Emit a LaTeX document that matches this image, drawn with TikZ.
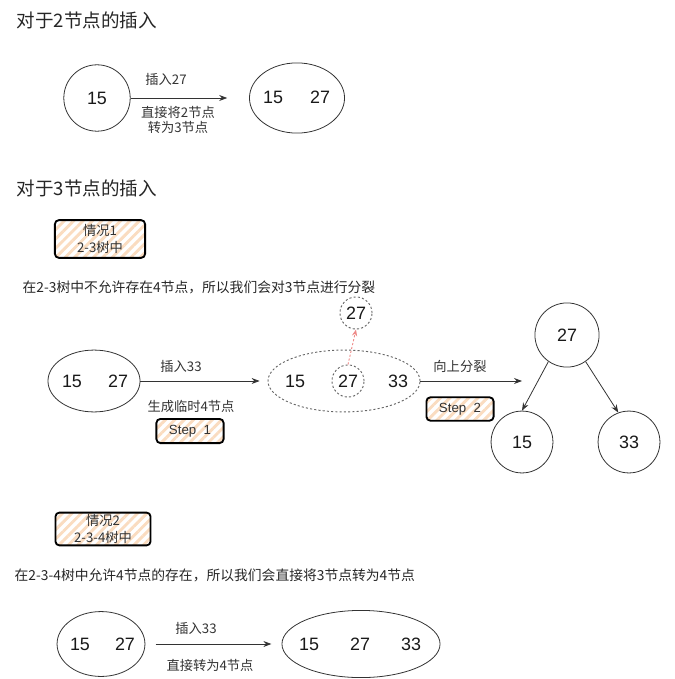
\documentclass[tikz,border=0pt]{standalone}
\usepackage{fontspec}
\setmainfont{Liberation Sans}
\newfontfamily\cjk{Noto Sans CJK SC}
\usepackage{tikz}
\usetikzlibrary{arrows.meta,positioning,shapes.geometric,patterns.meta}
\definecolor{LineGrey}{HTML}{333333}
\definecolor{DotGrey}{HTML}{666666}
\definecolor{HatchOrange}{HTML}{FADCC0}
\definecolor{PopRed}{HTML}{EE8A88}

\tikzset{
  keynum/.style={font=\fontsize{13.5}{15}\selectfont, text=black!90},
  lbl/.style={font=\fontsize{10}{12}\selectfont\cjk, text=black!80, align=center},
  heading/.style={font=\fontsize{14}{17}\selectfont\cjk, anchor=west, text=black!85},
  note/.style={font=\fontsize{10.4}{12}\selectfont\cjk, anchor=west, text=black!85},
  tnode/.style={draw=LineGrey, line width=0.6pt, circle, minimum size=1.70cm, inner sep=0pt},
  enode/.style={draw=LineGrey, line width=0.6pt, ellipse, inner sep=0pt},
  tmpnode/.style={draw=DotGrey, line width=0.7pt, dash pattern=on 1.6pt off 1.6pt, ellipse, inner sep=0pt},
  tag/.style={draw=black, line width=1.4pt, rounded corners=3pt, align=center,
    pattern={Lines[angle=45,distance=5pt,line width=2.2pt]}, pattern color=HatchOrange,
    font=\fontsize{10}{12.5}\selectfont\cjk, text=black!80, inner sep=0pt},
  link/.style={draw=LineGrey, line width=0.6pt, -{Stealth[length=6pt,width=4.5pt]}},
}

\begin{document}
\begin{tikzpicture}[x=0.0265cm, y=-0.0265cm]
  \useasboundingbox (0,0) rectangle (674,679);

  % inserting into a 2-node
  \node[heading] (h1) at (12,20) {对于2节点的插入};
  \node[tnode, minimum width=1.64cm, minimum height=1.76cm, keynum] (a15) at (97,98) {15};
  \node[enode, minimum width=2.52cm, minimum height=1.86cm] (a1527) at (297,98) {};
  \node[keynum] (a1527l) at (273,97) {15};
  \node[keynum] (a1527r) at (320,97) {27};
  \draw[link, shorten >=0.58cm] (a15.east) -- (a1527.west);
  \node[lbl] (a1lbl) at (166,79) {插入27};
  \node[lbl] (a2lbl) at (178,120) {直接将2节点\\[-1pt]转为3节点};

  % inserting into a 3-node
  \node[heading] (h2) at (12,188) {对于3节点的插入};
  \node[tag, minimum width=2.39cm, minimum height=1.0cm] (case1) at (100,239) {情况1\\2-3树中};
  \node[note] (n1) at (18,287) {在2-3树中不允许存在4节点，所以我们会对3节点进行分裂};

  \node[enode, minimum width=2.44cm, minimum height=1.64cm] (b1527) at (94,381) {};
  \node[keynum] (b15) at (72,381) {15};
  \node[keynum] (b27) at (118,381) {27};

  \node[tmpnode, minimum width=4.03cm, minimum height=1.64cm] (tmp) at (344,381) {};
  \node[keynum] (tmp15) at (295,381) {15};
  \node[tmpnode, circle, minimum size=0.85cm, keynum] (mid27) at (348,381) {27};
  \node[keynum] (tmp33) at (398,381) {33};
  \node[tmpnode, circle, minimum size=0.85cm, keynum] (up27) at (356,313) {27};
  \draw[PopRed, line width=0.7pt, dash pattern=on 1.6pt off 1.4pt,
        -{Stealth[length=5pt,width=4pt]}] (mid27.north) -- (up27.south);

  \draw[link, shorten >=0.21cm] (b1527.east) -- (tmp.west);
  \node[lbl] (b1lbl) at (181,366) {插入33};
  \node[lbl] (b2lbl) at (191,406) {生成临时4节点};
  \node[tag, minimum width=1.78cm, minimum height=0.64cm, font=\fontsize{10}{11.5}\selectfont] (step1) at (190,431) {Step\ \ 1};

  \coordinate (splitEnd) at (522,381);
  \draw[link] (tmp.east) -- (splitEnd);
  \node[lbl] (c1lbl) at (460,366) {向上分裂};
  \node[tag, minimum width=1.78cm, minimum height=0.62cm, font=\fontsize{10}{11.5}\selectfont] (step2) at (460,409) {Step\ \ 2};

  \node[tnode, keynum] (t27) at (567,335) {27};
  \node[tnode, minimum size=1.64cm, keynum] (t15) at (522,442) {15};
  \node[tnode, minimum size=1.64cm, keynum] (t33) at (629,442) {33};
  \draw[link] (t27.235) -- (t15.north);
  \draw[link] (t27.305) -- (t33.110);

  % case 2: 2-3-4 tree
  \node[tag, minimum width=2.52cm, minimum height=0.87cm] (case2) at (103,529) {情况2\\2-3-4树中};
  \node[note] (n2) at (10,575) {在2-3-4树中允许4节点的存在，所以我们会直接将3节点转为4节点};

  \node[enode, minimum width=2.33cm, minimum height=1.72cm] (d1527) at (101,644) {};
  \node[keynum] (d15) at (80,644) {15};
  \node[keynum] (d27) at (125,644) {27};
  \node[enode, minimum width=4.19cm, minimum height=1.78cm] (d3) at (361,644) {};
  \node[keynum] (d3a) at (309,644) {15};
  \node[keynum] (d3b) at (360,644) {27};
  \node[keynum] (d3c) at (411,644) {33};
  \draw[link, shorten <=0.27cm, shorten >=0.27cm] (d1527.east) -- (d3.west);
  \node[lbl] (d1lbl) at (196,628) {插入33};
  \node[lbl] (d2lbl) at (210,665) {直接转为4节点};
\end{tikzpicture}
\end{document}
